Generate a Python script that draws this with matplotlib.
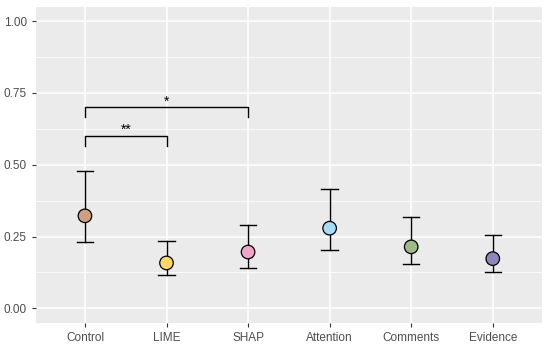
import matplotlib
matplotlib.use("Agg")
import matplotlib.pyplot as plt
import numpy as np

plt.rcParams["font.family"] = ["Liberation Sans", "DejaVu Sans"]

groups = ["Control", "LIME", "SHAP", "Attention", "Comments", "Evidence"]
means = [0.322, 0.158, 0.196, 0.279, 0.214, 0.173]
upper = [0.477, 0.234, 0.290, 0.414, 0.317, 0.255]
lower = [0.231, 0.117, 0.141, 0.204, 0.155, 0.127]
colors = ["#CFA07F", "#FFD866", "#F2A3C9", "#A7DAF6", "#9EB98A", "#8E87BD"]

# significance brackets: (group a, group b, height, label)
brackets = [("Control", "SHAP", 0.70, "*"), ("Control", "LIME", 0.60, "**")]

fig = plt.figure(figsize=(5.5, 3.5), dpi=100)
ax = fig.add_axes([36 / 550, (350 - 322.7) / 350, (541.7 - 36) / 550, (322.7 - 6.7) / 350])
ax.set_facecolor("#EBEBEB")

x = np.arange(1, len(groups) + 1)

for yv in [0.125, 0.375, 0.625, 0.875]:
    ax.axhline(yv, color="white", lw=0.55, zorder=0)
for yv in [0, 0.25, 0.5, 0.75, 1.0]:
    ax.axhline(yv, color="white", lw=1.1, zorder=0)
for xv in x:
    ax.axvline(xv, color="white", lw=1.1, zorder=0)

for i in range(len(groups)):
    ax.plot([x[i], x[i]], [lower[i], upper[i]], color="black", lw=1.0, zorder=2)
    ax.plot([x[i] - 0.1, x[i] + 0.1], [upper[i], upper[i]], color="black", lw=1.0, zorder=2)
    ax.plot([x[i] - 0.1, x[i] + 0.1], [lower[i], lower[i]], color="black", lw=1.0, zorder=2)
ax.scatter(x, means, s=95, c=colors, edgecolors="black", linewidths=0.9, zorder=3)

for a, b, h, lab in brackets:
    xa = x[groups.index(a)]
    xb = x[groups.index(b)]
    ax.plot([xa, xa, xb, xb], [h - 0.035, h, h, h - 0.035], color="black", lw=1.0, zorder=2)
    ax.text((xa + xb) / 2, h - 0.004, lab, ha="center", va="bottom", fontsize=10, color="black")

ax.set_xlim(0.4, 6.6)
ax.set_ylim(-0.05, 1.05)
ax.set_xticks(x)
ax.set_xticklabels(groups)
ax.set_yticks([0, 0.25, 0.5, 0.75, 1.0])
ax.set_yticklabels(["0.00", "0.25", "0.50", "0.75", "1.00"])
ax.tick_params(colors="#333333", length=3, width=0.8, labelsize=8.5, labelcolor="#4D4D4D")
for s in ax.spines.values():
    s.set_visible(False)

fig.savefig("out.png", dpi=100)
